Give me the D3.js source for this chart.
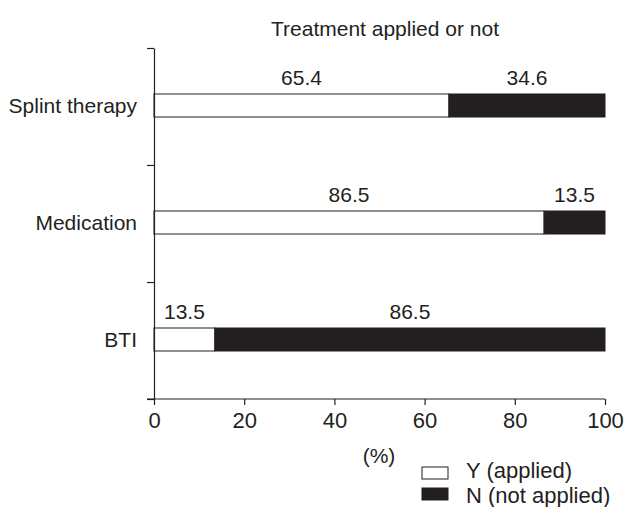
<!DOCTYPE html>
<html>
<head>
<meta charset="utf-8">
<script src="https://cdn.jsdelivr.net/npm/d3@7"></script>
<style>
  body { margin: 0; background: #fff; }
  text { font-family: "Liberation Sans", Arial, sans-serif; fill: #231f20; }
</style>
</head>
<body>
<div id="chart"></div>
<script>
const categories = ["Splint therapy", "Medication", "BTI"];
const applied = [65.4, 86.5, 13.5];
const notApplied = [34.6, 13.5, 86.5];
const xTicks = [0, 20, 40, 60, 80, 100];
const legendItems = ["Y (applied)", "N (not applied)"];

const ink = "#231f20";
const W = 625, H = 507;
const plotLeft = 154, plotRight = 605, plotTop = 48, plotBottom = 399;

const svg = d3.select("#chart").append("svg")
    .attr("width", W).attr("height", H);

const x = d3.scaleLinear().domain([0, 100]).range([plotLeft, plotRight]);
const y = d3.scaleBand().domain(categories).range([plotTop, plotBottom]).paddingInner(0);
const yEdges = d3.scaleLinear().domain([0, categories.length]).range([plotBottom, plotTop]);
const barH = 23;

// Title
svg.append("text")
    .attr("x", 385).attr("y", 36)
    .attr("text-anchor", "middle")
    .style("font-size", "21px")
    .text("Treatment applied or not");

// Bars
const rows = categories.map((c, i) => ({ cat: c, y: applied[i], n: notApplied[i] }));
const g = svg.append("g");

rows.forEach(r => {
    const cy = y(r.cat) + y.bandwidth() / 2 - 1;
    g.append("rect")
        .attr("x", x(0)).attr("y", cy - barH / 2)
        .attr("width", x(r.y) - x(0)).attr("height", barH)
        .attr("fill", "#fff").attr("stroke", ink).attr("stroke-width", 1);
    g.append("rect")
        .attr("x", x(r.y)).attr("y", cy - barH / 2)
        .attr("width", x(r.y + r.n) - x(r.y)).attr("height", barH)
        .attr("fill", ink).attr("stroke", ink).attr("stroke-width", 1);

    g.append("text")
        .attr("x", x(r.y / 2)).attr("y", cy - barH / 2 - 9)
        .attr("text-anchor", "middle").style("font-size", "21px")
        .text(r.y.toFixed(1));
    g.append("text")
        .attr("x", x(r.y + r.n / 2)).attr("y", cy - barH / 2 - 9)
        .attr("text-anchor", "middle").style("font-size", "21px")
        .text(r.n.toFixed(1));

    svg.append("text")
        .attr("x", plotLeft - 17).attr("y", cy + 7)
        .attr("text-anchor", "end").style("font-size", "21px")
        .text(r.cat);
});

// Y axis
const gy = svg.append("g")
    .attr("transform", `translate(${plotLeft},0)`)
    .call(d3.axisLeft(yEdges).tickValues(d3.range(categories.length + 1)).tickFormat("").tickSize(7).tickSizeOuter(0));
gy.selectAll("path, line").attr("stroke", ink).attr("stroke-width", 1.2);

// X axis
const gx = svg.append("g")
    .attr("transform", `translate(0,${plotBottom})`)
    .call(d3.axisBottom(x).tickValues(xTicks).tickSize(6).tickSizeOuter(0).tickPadding(7));
gx.select(".domain").attr("d", `M${plotLeft - 7},0H${plotRight}`);
gx.selectAll("path, line").attr("stroke", ink).attr("stroke-width", 1.2);
gx.selectAll("text").style("font-size", "22px").style("font-family", "'Liberation Sans', Arial, sans-serif").attr("fill", ink);

svg.append("text")
    .attr("x", 379).attr("y", 463)
    .attr("text-anchor", "middle").style("font-size", "21px")
    .text("(%)");

// Legend
legendItems.forEach((t, i) => {
    const ly = 467 + i * 21;
    svg.append("rect")
        .attr("x", 422).attr("y", ly)
        .attr("width", 26).attr("height", 12)
        .attr("fill", i === 0 ? "#fff" : ink)
        .attr("stroke", ink).attr("stroke-width", 1);
    svg.append("text")
        .attr("x", 466).attr("y", 478 + i * 25)
        .style("font-size", "22px")
        .text(t);
});
</script>
</body>
</html>
